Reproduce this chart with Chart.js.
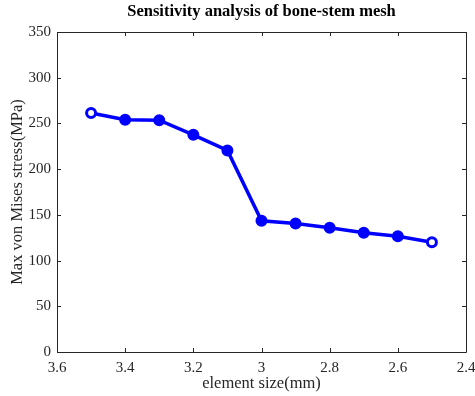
<!DOCTYPE html>
<html>
<head>
<meta charset="utf-8">
<script src="https://cdn.jsdelivr.net/npm/chart.js@4/dist/chart.umd.min.js"></script>
<style>
html,body{margin:0;padding:0;background:#fff;}
#wrap{width:475px;height:396px;}
</style>
</head>
<body>
<div id="wrap"><canvas id="c" width="475" height="396"></canvas></div>
<script>
const elementSize = [3.5, 3.4, 3.3, 3.2, 3.1, 3.0, 2.9, 2.8, 2.7, 2.6, 2.5];
const maxStress = [261.5, 254, 253.5, 237.5, 220.5, 143.5, 140.5, 136, 130.5, 126.5, 120];
const xTicks = [3.6, 3.4, 3.2, 3.0, 2.8, 2.6, 2.4];
const yTicks = [0, 50, 100, 150, 200, 250, 300, 350];
const titleText = 'Sensitivity analysis of bone-stem mesh';
const xTitle = 'element size(mm)';
const yTitle = 'Max von Mises stress(MPa)';

const serif = '"Liberation Serif", "Times New Roman", serif';
const axisColor = '#262626';

const boxPlugin = {
  id: 'boxTicks',
  afterDatasetsDraw(chart) {
    const {ctx, chartArea: a, scales: {x, y}} = chart;
    ctx.save();
    ctx.strokeStyle = axisColor;
    ctx.lineWidth = 1;
    ctx.beginPath();
    ctx.rect(Math.round(a.left) + 0.5, Math.round(a.top) + 0.5, Math.round(a.right - a.left), Math.round(a.bottom - a.top));
    const L = 4;
    xTicks.forEach(v => {
      const px = Math.round(x.getPixelForValue(v)) + 0.5;
      ctx.moveTo(px, a.bottom); ctx.lineTo(px, a.bottom - L);
      ctx.moveTo(px, a.top); ctx.lineTo(px, a.top + L);
    });
    yTicks.forEach(v => {
      const py = Math.round(y.getPixelForValue(v)) + 0.5;
      ctx.moveTo(a.left, py); ctx.lineTo(a.left + L, py);
      ctx.moveTo(a.right, py); ctx.lineTo(a.right - L, py);
    });
    ctx.stroke();
    ctx.restore();
  }
};

const pts = elementSize.map((v, i) => ({x: v, y: maxStress[i]}));
const fills = pts.map((p, i) => (i === 0 || i === pts.length - 1) ? '#ffffff' : '#0000ff');

new Chart(document.getElementById('c'), {
  type: 'line',
  data: {
    datasets: [{
      data: pts,
      borderColor: '#0000ff',
      borderWidth: 3.5,
      pointRadius: 4.5,
      pointBorderWidth: 3,
      pointBorderColor: '#0000ff',
      pointBackgroundColor: fills,
      tension: 0,
      clip: false
    }]
  },
  options: {
    responsive: false,
    animation: false,
    devicePixelRatio: 1,
    layout: {padding: {left: 0, right: 9, top: 0, bottom: 0}},
    plugins: {
      legend: {display: false},
      tooltip: {enabled: false},
      title: {
        display: true,
        text: titleText,
        fullSize: false,
        color: '#000',
        font: {family: serif, size: 16.5, weight: 'bold'},
        padding: {top: 2, bottom: 10.2}
      }
    },
    scales: {
      x: {
        type: 'linear',
        reverse: true,
        min: 2.4, max: 3.6,
        afterBuildTicks(s) { s.ticks = xTicks.map(v => ({value: v})); },
        afterFit(s) { s.height = 44; s.paddingLeft = 0; s.paddingRight = 0; },
        grid: {display: false, drawTicks: false},
        border: {display: false},
        ticks: {
          color: axisColor,
          padding: 7,
          maxRotation: 0,
          font: {family: serif, size: 15},
          callback: v => String(Number(v.toFixed(1)))
        },
        title: {
          display: true, text: xTitle, color: axisColor,
          font: {family: serif, size: 16.5},
          padding: {top: 0, bottom: 2}
        }
      },
      y: {
        type: 'linear',
        min: 0, max: 350,
        afterBuildTicks(s) { s.ticks = yTicks.map(v => ({value: v})); },
        afterFit(s) { s.width = 57; s.paddingTop = 0; s.paddingBottom = 0; },
        grid: {display: false, drawTicks: false},
        border: {display: false},
        ticks: {
          color: axisColor,
          padding: 6,
          font: {family: serif, size: 15}
        },
        title: {
          display: true, text: yTitle, color: axisColor,
          font: {family: serif, size: 16.5},
          padding: {top: 8, bottom: 0}
        }
      }
    }
  },
  plugins: [boxPlugin]
});
</script>
</body>
</html>
